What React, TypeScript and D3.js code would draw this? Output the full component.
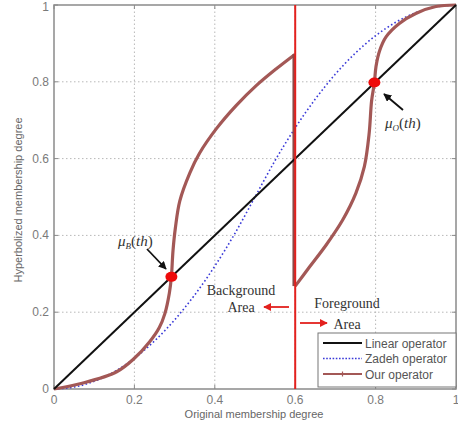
import { useEffect, useRef } from "react";
import * as d3 from "d3";

// tick values on both axes
const ticks = [0, 0.2, 0.4, 0.6, 0.8, 1];

// Linear operator
const linearX = [0, 1];
const linearY = [0, 1];

// Zadeh operator
const zadehX = [0, 0.05, 0.1, 0.15, 0.2, 0.25, 0.3, 0.35, 0.4, 0.45, 0.5, 0.55, 0.6, 0.65, 0.7, 0.75, 0.8, 0.85, 0.9, 0.95, 1];
const zadehY = [0, 0.005, 0.02, 0.045, 0.08, 0.125, 0.18, 0.245, 0.32, 0.405, 0.5, 0.595, 0.68, 0.755, 0.82, 0.875, 0.92, 0.955, 0.98, 0.995, 1];

// Our operator, background part (x < 0.6)
const ourBgX = [0, 0.07, 0.156, 0.2, 0.238, 0.262, 0.276, 0.287, 0.292, 0.296, 0.302, 0.313, 0.338, 0.362, 0.404, 0.453, 0.503, 0.553, 0.6];
const ourBgY = [0, 0.015, 0.045, 0.08, 0.123, 0.16, 0.197, 0.25, 0.292, 0.36, 0.42, 0.49, 0.563, 0.614, 0.678, 0.738, 0.79, 0.834, 0.872];

// Our operator, foreground part (x >= 0.6)
const ourFgX = [0.6, 0.635, 0.677, 0.718, 0.751, 0.772, 0.784, 0.79, 0.797, 0.801, 0.81, 0.826, 0.859, 0.9, 0.95, 1];
const ourFgY = [0.268, 0.317, 0.375, 0.44, 0.51, 0.579, 0.666, 0.75, 0.798, 0.84, 0.881, 0.917, 0.952, 0.978, 0.996, 1];

// thresholds
const thPoints = [
  { x: 0.292, y: 0.292 },
  { x: 0.797, y: 0.798 },
];
const split = 0.6;

const legendItems = ["Linear operator", "Zadeh operator", "Our operator"];

export default function App() {
  const svgRef = useRef(null);

  useEffect(() => {
    const width = 458;
    const height = 427;
    const svg = d3.select(svgRef.current);
    svg.selectAll("*").remove();
    svg.attr("width", width).attr("height", height);

    const x = d3.scaleLinear().domain([0, 1]).range([54, 456]);
    const y = d3.scaleLinear().domain([0, 1]).range([389, 5]);

    svg.append("rect").attr("width", width).attr("height", height).attr("fill", "#fff");

    // grid
    const grid = svg.append("g");
    ticks.slice(1, -1).forEach((t) => {
      grid.append("line")
        .attr("x1", x(t)).attr("x2", x(t)).attr("y1", y(0)).attr("y2", y(1))
        .attr("stroke", "#b8b8b8").attr("stroke-width", 1).attr("stroke-dasharray", "1.5 2.5");
      grid.append("line")
        .attr("y1", y(t)).attr("y2", y(t)).attr("x1", x(0)).attr("x2", x(1))
        .attr("stroke", "#b8b8b8").attr("stroke-width", 1).attr("stroke-dasharray", "1.5 2.5");
    });

    // frame + ticks
    svg.append("rect")
      .attr("x", x(0)).attr("y", y(1))
      .attr("width", x(1) - x(0)).attr("height", y(0) - y(1))
      .attr("fill", "none").attr("stroke", "#8a8a8a").attr("stroke-width", 1.5);

    const axisG = svg.append("g").attr("fill", "#7a7a7a")
      .style("font-family", "Liberation Sans, Arial, sans-serif").style("font-size", "12px");
    ticks.forEach((t) => {
      [[y(0), y(0) - 4], [y(1), y(1) + 4]].forEach(([a, b]) => {
        axisG.append("line").attr("x1", x(t)).attr("x2", x(t)).attr("y1", a).attr("y2", b)
          .attr("stroke", "#8a8a8a").attr("stroke-width", 1);
      });
      [[x(0), x(0) + 4], [x(1), x(1) - 4]].forEach(([a, b]) => {
        axisG.append("line").attr("y1", y(t)).attr("y2", y(t)).attr("x1", a).attr("x2", b)
          .attr("stroke", "#8a8a8a").attr("stroke-width", 1);
      });
      axisG.append("text").attr("x", x(t)).attr("y", y(0) + 15)
        .attr("text-anchor", "middle").text(String(t));
      axisG.append("text").attr("x", x(0) - 5).attr("y", t === 1 ? y(t) + 6 : y(t) + 4)
        .attr("text-anchor", "end").text(String(t));
    });

    axisG.append("text")
      .attr("x", 254).attr("y", 418).attr("text-anchor", "middle")
      .style("font-size", "11px").attr("fill", "#666")
      .text("Original membership degree");
    axisG.append("text")
      .attr("transform", "translate(22,200) rotate(-90)").attr("text-anchor", "middle")
      .style("font-size", "11px").attr("fill", "#666")
      .text("Hyperbolized membership degree");

    const line = d3.line<[number, number]>()
      .x((d) => x(d[0])).y((d) => y(d[1]));
    const zip = (xs: number[], ys: number[]) => xs.map((v, i) => [v, ys[i]] as [number, number]);

    // zadeh
    svg.append("path")
      .attr("d", line.curve(d3.curveMonotoneX)(zip(zadehX, zadehY)))
      .attr("fill", "none").attr("stroke", "#3a3ad8").attr("stroke-width", 1.6)
      .attr("stroke-dasharray", "1.6 2.4");

    // our operator
    const ourColor = "#a35856";
    const smooth = d3.curveCatmullRom.alpha(0.5);
    svg.append("path")
      .attr("d", line.curve(smooth)(zip(ourBgX, ourBgY)))
      .attr("fill", "none").attr("stroke", ourColor).attr("stroke-width", 3.2)
      .attr("stroke-linejoin", "round");
    svg.append("path")
      .attr("d", line.curve(d3.curveLinear)([[split, ourBgY[ourBgY.length - 1]], [split, ourFgY[0]]]))
      .attr("fill", "none").attr("stroke", "#8a4a48").attr("stroke-width", 2.5)
      .attr("transform", "translate(-1.5,0)");
    svg.append("path")
      .attr("d", line.curve(smooth)(zip(ourFgX, ourFgY)))
      .attr("fill", "none").attr("stroke", ourColor).attr("stroke-width", 3.2)
      .attr("stroke-linejoin", "round");

    // linear
    svg.append("path")
      .attr("d", line.curve(d3.curveLinear)(zip(linearX, linearY)))
      .attr("fill", "none").attr("stroke", "#111").attr("stroke-width", 2);

    // split line
    svg.append("line")
      .attr("x1", x(split)).attr("x2", x(split)).attr("y1", y(1)).attr("y2", y(0))
      .attr("stroke", "#e3211e").attr("stroke-width", 2);

    // threshold dots
    thPoints.forEach((p) => {
      svg.append("ellipse").attr("cx", x(p.x)).attr("cy", y(p.y))
        .attr("rx", 6).attr("ry", 5).attr("fill", "#ee0a0a");
    });

    // arrows
    const defs = svg.append("defs");
    const mk = (id: string, color: string) => {
      defs.append("marker").attr("id", id).attr("viewBox", "0 0 10 10")
        .attr("refX", 9).attr("refY", 5).attr("markerWidth", 4.5).attr("markerHeight", 4.5)
        .attr("orient", "auto")
        .append("path").attr("d", "M0,0 L10,5 L0,10 Z").attr("fill", color);
    };
    mk("ahBlack", "#111");
    mk("ahRed", "#e3211e");

    const arrow = (x1: number, y1: number, x2: number, y2: number, color: string, id: string) => {
      svg.append("line").attr("x1", x1).attr("y1", y1).attr("x2", x2).attr("y2", y2)
        .attr("stroke", color).attr("stroke-width", 1.8).attr("marker-end", `url(#${id})`);
    };
    arrow(147, 249, 166, 269, "#111", "ahBlack");
    arrow(403, 110, 384, 94, "#111", "ahBlack");
    arrow(289, 307, 264, 307, "#e3211e", "ahRed");
    arrow(300, 323, 327, 323, "#e3211e", "ahRed");

    // mu labels
    const serif = "Liberation Serif, Times New Roman, serif";
    const mu = (px: number, py: number, sub: string) => {
      const t = svg.append("text").attr("x", px).attr("y", py)
        .style("font-family", serif).style("font-size", "15px").attr("fill", "#333")
        .style("font-style", "italic");
      t.append("tspan").text("\u03bc");
      t.append("tspan").attr("dy", 3).style("font-size", "9px").text(sub);
      t.append("tspan").attr("dy", -3).style("font-style", "normal").text("(");
      t.append("tspan").text("th");
      t.append("tspan").style("font-style", "normal").text(")");
    };
    mu(118, 246, "B");
    mu(385, 128, "O");

    const area = svg.append("g").style("font-family", serif).style("font-size", "14px")
      .attr("fill", "#333").attr("text-anchor", "middle");
    area.append("text").attr("x", 241).attr("y", 295).text("Background");
    area.append("text").attr("x", 241).attr("y", 312).text("Area");
    area.append("text").attr("x", 347).attr("y", 308).text("Foreground");
    area.append("text").attr("x", 347).attr("y", 329).text("Area");

    // legend
    const lg = svg.append("g");
    lg.append("rect").attr("x", 318).attr("y", 333).attr("width", 138).attr("height", 54)
      .attr("fill", "#fff").attr("stroke", "#777").attr("stroke-width", 1);
    const styles = [
      { c: "#111", w: 2, dash: null },
      { c: "#3a3ad8", w: 1.4, dash: "1.6 1.6" },
      { c: ourColor, w: 2, dash: null },
    ];
    legendItems.forEach((label, i) => {
      const ly = 343 + i * 15.5;
      const s = styles[i];
      const l = lg.append("line").attr("x1", 323).attr("x2", 362).attr("y1", ly).attr("y2", ly)
        .attr("stroke", s.c).attr("stroke-width", s.w);
      if (s.dash) l.attr("stroke-dasharray", s.dash);
      if (i === 2) {
        lg.append("line").attr("x1", 342.5).attr("x2", 342.5).attr("y1", ly - 2.5).attr("y2", ly + 2.5)
          .attr("stroke", ourColor).attr("stroke-width", 1.2);
      }
      lg.append("text").attr("x", 365).attr("y", ly + 4.5)
        .style("font-family", "Liberation Sans, Arial, sans-serif").style("font-size", "12px")
        .attr("fill", "#555").text(label);
    });
  }, []);

  return <svg ref={svgRef} style={{ position: "absolute", left: 0, top: 0, display: "block" }} />;
}
